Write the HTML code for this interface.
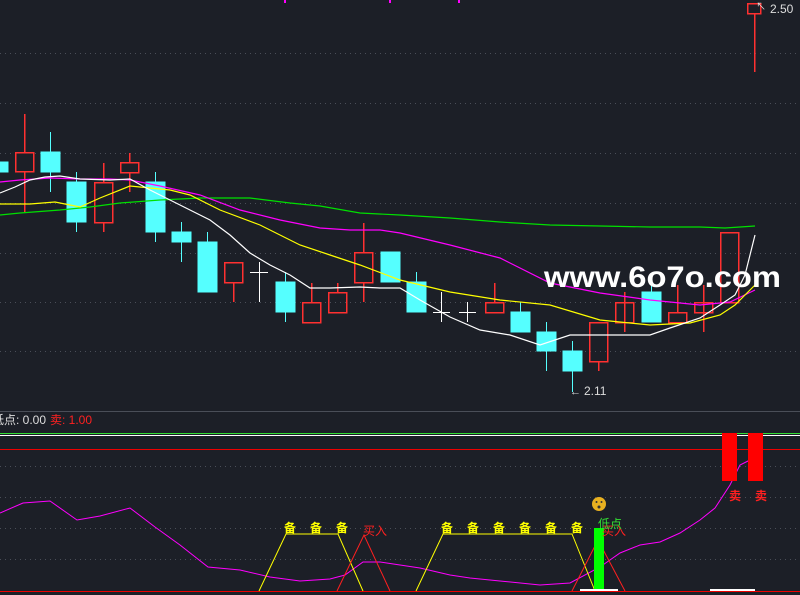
<!DOCTYPE html>
<html><head><meta charset="utf-8"><style>
body{margin:0;background:#1c1f27;width:800px;height:595px;overflow:hidden}
svg{display:block}
text{font-family:"Liberation Sans","Noto Sans CJK SC",sans-serif}
</style></head><body>
<svg width="800" height="595" viewBox="0 0 800 595" xmlns="http://www.w3.org/2000/svg">
<rect width="800" height="595" fill="#1c1f27"/>
<g stroke="#4a4e58" stroke-dasharray="1,4" stroke-width="1">
<line x1="0" y1="53.5" x2="800" y2="53.5"/><line x1="0" y1="103.5" x2="800" y2="103.5"/>
<line x1="0" y1="153.5" x2="800" y2="153.5"/><line x1="0" y1="203.5" x2="800" y2="203.5"/>
<line x1="0" y1="253.5" x2="800" y2="253.5"/><line x1="0" y1="302.5" x2="800" y2="302.5"/>
<line x1="0" y1="351.5" x2="800" y2="351.5"/>
<line x1="0" y1="466.5" x2="800" y2="466.5"/><line x1="0" y1="497.5" x2="800" y2="497.5"/>
<line x1="0" y1="528.5" x2="800" y2="528.5"/><line x1="0" y1="559.5" x2="800" y2="559.5"/>
</g>
<rect x="284" y="0" width="2" height="3" fill="#f0f"/><rect x="389" y="0" width="2" height="3" fill="#f0f"/><rect x="458" y="0" width="2" height="3" fill="#f0f"/>
<line x1="0" y1="411.5" x2="800" y2="411.5" stroke="#4a4e58"/>
<g fill="#55ffff" stroke="#55ffff" shape-rendering="crispEdges">
<rect x="0" y="162" width="8" height="10"/>
<line x1="50.5" y1="132" x2="50.5" y2="192"/><rect x="41" y="152" width="19" height="20"/>
<line x1="76.5" y1="172" x2="76.5" y2="232"/><rect x="67" y="182" width="19" height="40"/>
<line x1="155.5" y1="172" x2="155.5" y2="242"/><rect x="146" y="182" width="19" height="50"/>
<line x1="181.5" y1="222" x2="181.5" y2="262"/><rect x="172" y="232" width="19" height="10"/>
<line x1="207.5" y1="232" x2="207.5" y2="292"/><rect x="198" y="242" width="19" height="50"/>
<line x1="285.5" y1="272" x2="285.5" y2="322"/><rect x="276" y="282" width="19" height="30"/>
<rect x="381" y="252" width="19" height="30"/>
<line x1="416.5" y1="272" x2="416.5" y2="312"/><rect x="407" y="282" width="19" height="30"/>
<line x1="520.5" y1="302" x2="520.5" y2="332"/><rect x="511" y="312" width="19" height="20"/>
<line x1="546.5" y1="322" x2="546.5" y2="371"/><rect x="537" y="332" width="19" height="19"/>
<line x1="572.5" y1="341" x2="572.5" y2="392"/><rect x="563" y="351" width="19" height="20"/>
<line x1="651.5" y1="282" x2="651.5" y2="322"/><rect x="642" y="292" width="19" height="30"/>
</g>
<g fill="none" stroke="#ff3030" stroke-width="1.5" shape-rendering="crispEdges">
<line x1="24.5" y1="114" x2="24.5" y2="212"/><rect x="15.5" y="152.5" width="18" height="19" fill="#1c1f27"/>
<line x1="103.5" y1="163" x2="103.5" y2="232"/><rect x="94.5" y="182.5" width="18" height="40" fill="#1c1f27"/>
<line x1="129.5" y1="153" x2="129.5" y2="192"/><rect x="120.5" y="162.5" width="18" height="10" fill="#1c1f27"/>
<line x1="233.5" y1="282" x2="233.5" y2="302"/><rect x="224.5" y="262.5" width="18" height="20"/>
<line x1="311.5" y1="283" x2="311.5" y2="302"/><rect x="302.5" y="302.5" width="18" height="20"/>
<line x1="337.5" y1="283" x2="337.5" y2="292"/><rect x="328.5" y="292.5" width="18" height="20"/>
<line x1="363.5" y1="223" x2="363.5" y2="302"/><rect x="354.5" y="252.5" width="18" height="30" fill="#1c1f27"/>
<line x1="494.5" y1="283" x2="494.5" y2="302"/><rect x="485.5" y="302.5" width="18" height="10"/>
<line x1="598.5" y1="361" x2="598.5" y2="371"/><rect x="589.5" y="322.5" width="18" height="39"/>
<line x1="624.5" y1="292" x2="624.5" y2="332"/><rect x="615.5" y="302.5" width="18" height="20"/>
<line x1="677.5" y1="285" x2="677.5" y2="312"/><rect x="668.5" y="312.5" width="18" height="10"/>
<line x1="703.5" y1="285" x2="703.5" y2="332"/><rect x="694.5" y="302.5" width="18" height="10"/>
<rect x="720.5" y="232.5" width="18" height="70"/>
<line x1="754.5" y1="13" x2="754.5" y2="72"/><rect x="747.5" y="3.5" width="13" height="10"/>
</g>
<g stroke="#fff" shape-rendering="crispEdges">
<line x1="259.5" y1="262" x2="259.5" y2="302"/><line x1="250" y1="272.5" x2="268" y2="272.5"/>
<line x1="441.5" y1="292" x2="441.5" y2="322"/><line x1="433" y1="312.5" x2="450" y2="312.5"/>
<line x1="467.5" y1="302" x2="467.5" y2="322"/><line x1="459" y1="312.5" x2="476" y2="312.5"/>
</g>
<g fill="none" stroke-width="1.2">
<polyline stroke="#00e000" points="0,215 20,213 60,210 90,207 120,203 160,200 200,198 250,198 290,203 320,206 360,213 400,215 450,218 500,222 550,225 600,226 650,227 700,227 725,228 740,227 755,226"/>
<polyline stroke="#ff00ff" points="0,182 20,180 50,178 80,179 110,179 130,180 160,186 200,195 240,210 280,220 320,228 350,230 380,230 400,233 450,245 500,258 550,283 600,293 650,300 700,305 730,302 755,290"/>
<polyline stroke="#ffff00" points="0,204 30,204 55,202 70,205 80,207 100,198 130,186 150,188 170,190 190,195 220,210 260,225 300,245 330,255 360,265 400,280 450,292 500,300 550,305 600,320 650,325 690,323 720,315 735,305 745,295 755,285"/>
<polyline stroke="#ffffff" points="0,193 15,187 30,180 45,177 60,176 80,179 110,180 130,179 150,190 170,200 190,210 210,220 230,235 250,253 270,265 290,275 310,288 330,288 360,287 380,288 400,288 420,300 450,317 480,330 510,335 540,345 570,335 600,335 650,335 670,328 700,318 720,305 735,295 745,275 755,235"/>
</g>
<text x="584" y="395" fill="#ddd" font-size="12">2.11</text>
<text x="570" y="395" fill="#ddd" font-size="11">←</text>
<text x="770" y="13" fill="#ddd" font-size="12">2.50</text>
<text x="756" y="10" fill="#ddd" font-size="10">↖</text>
<text x="544" y="287" fill="#fff" font-size="30" font-weight="bold" textLength="237" lengthAdjust="spacingAndGlyphs">www.6o7o.com</text>
<text x="-8" y="424" fill="#ddd" font-size="12">低点: 0.00</text>
<text x="50" y="424" fill="#ff2020" font-size="12">卖: 1.00</text>
<line x1="0" y1="433.5" x2="800" y2="433.5" stroke="#33dd33"/>
<line x1="0" y1="435.5" x2="800" y2="435.5" stroke="#fff"/>
<line x1="0" y1="449.5" x2="800" y2="449.5" stroke="#e00"/>
<line x1="0" y1="591.5" x2="800" y2="591.5" stroke="#e00"/>
<polyline fill="none" stroke="#ff00ff" points="0,513 23,503 50,501 77,520 100,516 130,508 155,527 180,545 208,567 240,570 270,577 300,581 330,579 345,575 363,562 380,562 400,565 420,568 450,575 470,578 500,581 540,585 570,583 600,567 620,553 640,545 660,542 680,533 700,520 715,508 730,485 740,465 750,460"/>
<polyline fill="none" stroke="#ffff00" points="259,591 286,534 338,534 363,591"/>
<polyline fill="none" stroke="#ffff00" points="416,591 443,534 572,534 595,591"/>
<polyline fill="none" stroke="#ff2020" points="337,591 364,535 390,591"/>
<polyline fill="none" stroke="#ff2020" points="572,591 598,540 625,591"/>
<rect x="594" y="528" width="10" height="63" fill="#00ff00"/>
<rect x="722" y="433" width="15" height="48" fill="#ff0000"/>
<rect x="748" y="433" width="15" height="48" fill="#ff0000"/>
<rect x="580" y="589" width="38" height="2" fill="#fff"/>
<rect x="710" y="589" width="45" height="2" fill="#fff"/>
<g fill="#ffff00" font-size="12" font-weight="bold">
<text x="284" y="532">备</text><text x="310" y="532">备</text><text x="336" y="532">备</text>
<text x="441" y="532">备</text><text x="467" y="532">备</text><text x="493" y="532">备</text><text x="519" y="532">备</text><text x="545" y="532">备</text><text x="571" y="532">备</text>
</g>
<text x="363" y="535" fill="#ff2020" font-size="12">买入</text>
<text x="602" y="535" fill="#ff2020" font-size="12">买入</text>
<text x="598" y="528" fill="#33dd33" font-size="12">低点</text>
<text x="729" y="500" fill="#ff2020" font-size="12" font-weight="bold">卖</text>
<text x="755" y="500" fill="#ff2020" font-size="12" font-weight="bold">卖</text>
<circle cx="599" cy="504" r="7" fill="#e8b020"/>
<circle cx="596.5" cy="502" r="1" fill="#333"/><circle cx="601.5" cy="502" r="1" fill="#333"/>
<circle cx="599" cy="507" r="1.5" fill="#333"/>
</svg>
</body></html>
